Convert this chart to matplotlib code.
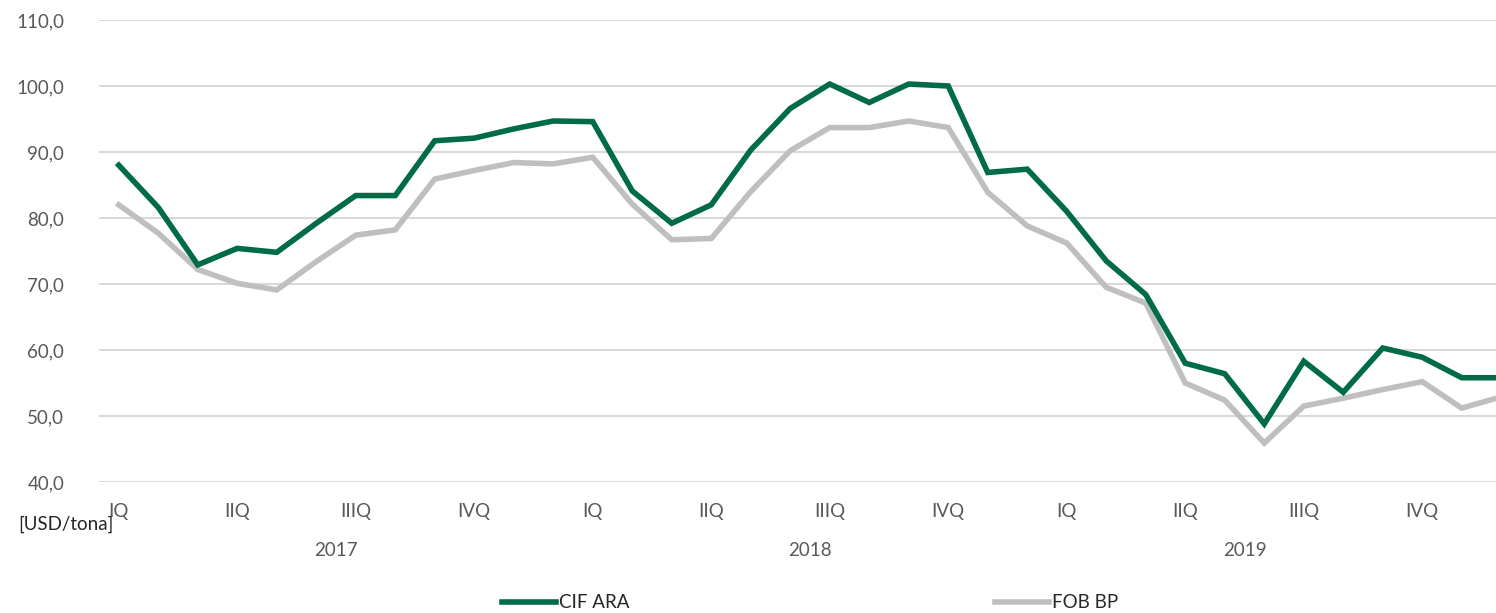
import matplotlib.pyplot as plt
import matplotlib.transforms as mtransforms
import numpy as np

# monthly prices 2017-2019, USD/tona
cif_ara = [88.0, 81.6, 72.9, 75.4, 74.8, 79.2, 83.4, 83.4, 91.7, 92.1, 93.5, 94.7,
           94.6, 84.1, 79.2, 82.0, 90.3, 96.6, 100.3, 97.5, 100.3, 100.0, 86.9, 87.4,
           81.0, 73.5, 68.4, 58.0, 56.4, 48.8, 58.3, 53.6, 60.3, 58.9, 55.8, 55.8]
fob_bp = [82.0, 77.7, 72.2, 70.1, 69.1, 73.4, 77.4, 78.2, 85.9, 87.2, 88.4, 88.2,
          89.2, 82.1, 76.7, 76.9, 84.0, 90.2, 93.7, 93.7, 94.7, 93.7, 83.9, 78.8,
          76.2, 69.5, 67.1, 55.0, 52.4, 45.9, 51.5, 52.7, 54.0, 55.2, 51.2, 52.9]
quarters = ['IQ', 'IIQ', 'IIIQ', 'IVQ']
years = ['2017', '2018', '2019']
year_pos = [5.5, 17.5, 28.5]

plt.rcParams['font.family'] = ['Lato', 'DejaVu Sans']

green = '#006B47'
gray = '#BFBFBF'
txt = '#595959'
fs = 13.5

fig = plt.figure(figsize=(14.96, 6.13), dpi=100)
# plot area runs a little past the right edge, like the original crop
ax = fig.add_axes([99 / 1496, 1 - 482 / 613, 1422 / 1496, (482 - 20) / 613])

x = np.arange(len(cif_ara))
ax.plot(x, cif_ara, color=green, lw=4, solid_joinstyle='miter', label='CIF ARA', zorder=3)
ax.plot(x, fob_bp, color=gray, lw=4, solid_joinstyle='miter', label='FOB BP', zorder=2)

ax.set_xlim(-0.5, len(x) - 0.5)
ax.set_ylim(40, 110)
ax.set_yticks(np.arange(40, 111, 10))
ax.set_yticklabels([f'{v:.1f}'.replace('.', ',') for v in np.arange(40, 111, 10)],
                   fontsize=fs, color=txt)
ax.tick_params(axis='y', length=0, pad=25)
ax.tick_params(axis='x', length=0)
ax.set_xticks([])
ax.grid(axis='y', color='#D9D9D9', lw=1.5)
ax.set_axisbelow(True)
for s in ax.spines.values():
    s.set_visible(False)

trans = mtransforms.blended_transform_factory(ax.transData, fig.transFigure)
for i in range(0, len(x), 3):
    ax.text(i, 1 - 511 / 613, quarters[(i // 3) % 4], transform=trans,
            ha='center', va='center', fontsize=fs, color=txt, clip_on=False)
for p, yr in zip(year_pos, years):
    ax.text(p, 1 - 551 / 613, yr, transform=trans,
            ha='center', va='center', fontsize=fs, color=txt, clip_on=False)

fig.text(18 / 1496, 1 - 524 / 613, '[USD/tona]', ha='left', va='center',
         fontsize=fs, color='#262626')

leg = fig.legend(loc='center', bbox_to_anchor=(810 / 1496, 1 - 603 / 613), ncol=2,
                 frameon=False, fontsize=fs, handlelength=2.9, handletextpad=0.15,
                 columnspacing=19.5)
for t in leg.get_texts():
    t.set_color('#262626')

fig.savefig('out.png', dpi=100)
